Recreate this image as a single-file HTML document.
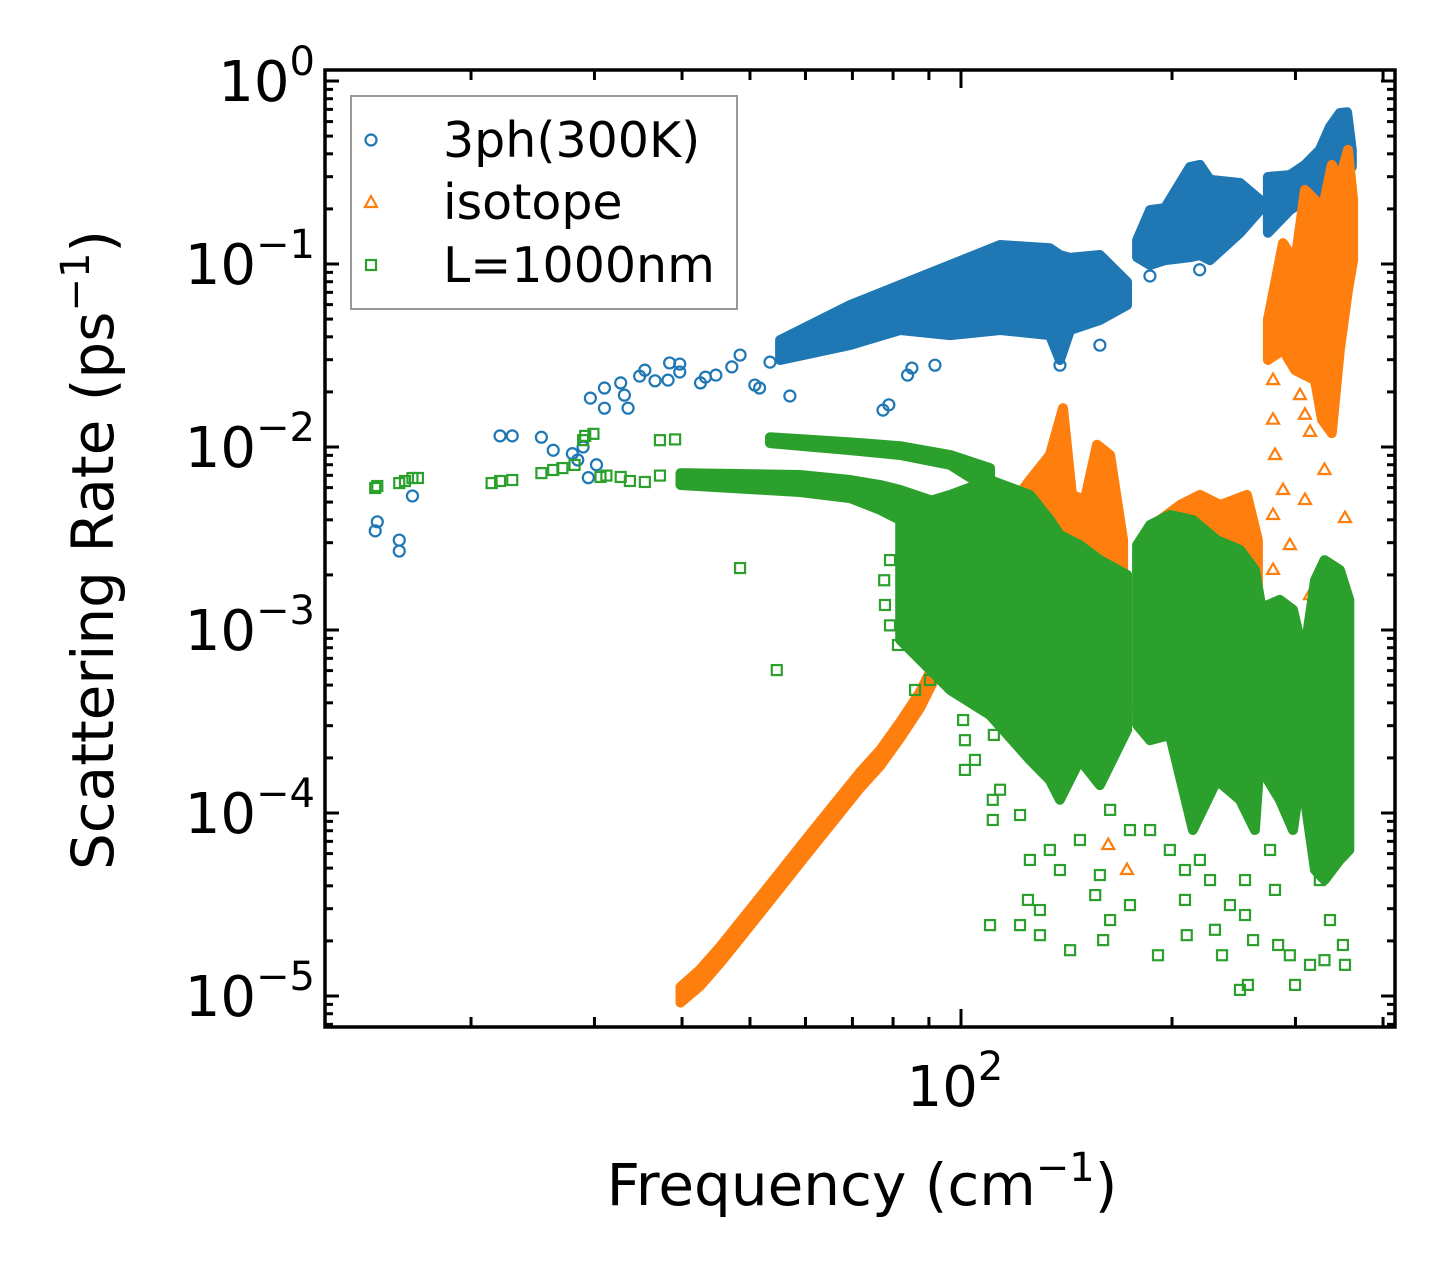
<!DOCTYPE html>
<html><head><meta charset="utf-8"><style>
html,body{margin:0;padding:0;background:#fff;}
svg text{font-family:"DejaVu Sans","Liberation Sans",sans-serif;fill:#000;}
</style></head>
<body>
<svg id="chart" width="1455" height="1277" viewBox="0 0 1455 1277" xmlns="http://www.w3.org/2000/svg">
<rect width="1455" height="1277" fill="#fff"/>
<g id="marks"></g>
<g id="axes"></g>
<g id="legend">
 <rect x="351" y="96" width="386" height="213" fill="#fff" fill-opacity="0.8" stroke="#999" stroke-width="2"/>
 <circle cx="371" cy="140" r="5.5" fill="none" stroke="#1f77b4" stroke-width="2.2"/>
 <text x="443" y="157" font-size="49">3ph(300K)</text>
 <path d="M371,196 L377,207 L365,207 Z" fill="none" stroke="#ff7f0e" stroke-width="2.2"/>
 <text x="443" y="219" font-size="49">isotope</text>
 <rect x="366" y="260" width="10" height="10" fill="none" stroke="#2ca02c" stroke-width="2.2"/>
 <text x="443" y="282" font-size="49">L=1000nm</text>
</g>
<text x="862" y="1205" font-size="58" text-anchor="middle">Frequency (cm<tspan font-size="40" dy="-24">−1</tspan><tspan dy="24">)</tspan></text>
<text transform="translate(113,550) rotate(-90)" font-size="58" text-anchor="middle">Scattering Rate (ps<tspan font-size="40" dy="-24">−1</tspan><tspan dy="24">)</tspan></text>
</svg>
<script>
// ---- axis config ----
const X0=961, XDEC=701;
const Y0=81, YDEC=183;
const PL=325, PR=1395, PT=70, PB=1027;
function xs(f){return X0+XDEC*Math.log10(f/100);}
function ys(v){return Y0-YDEC*Math.log10(v);}

// ---- data: 3ph(300K) ----
const phFreq=[14.6,14.7,15.8,15.8,16.5,22.0,22.9,25.2,26.2,27.9,28.4,28.9,29.4,29.6,30.2,31.0,31.0,32.7,33.1,33.5,34.8,35.4,36.6,38.2,38.4,39.7,39.7,42.5,43.2,44.7,47.1,48.4,50.8,51.6,53.4,57.0,58.9,60.9,65.0,71.8,77.4,78.9,83.9,85.1,91.8,138.4,157.8,186,219];
const phRate=[3.48e-3,3.9e-3,2.7e-3,3.1e-3,5.4e-3,1.15e-2,1.15e-2,1.13e-2,9.6e-3,9.2e-3,8.5e-3,1.0e-2,6.8e-3,1.85e-2,8.0e-3,2.1e-2,1.63e-2,2.24e-2,1.92e-2,1.63e-2,2.44e-2,2.63e-2,2.3e-2,2.32e-2,2.88e-2,2.84e-2,2.57e-2,2.24e-2,2.41e-2,2.47e-2,2.74e-2,3.18e-2,2.18e-2,2.1e-2,2.91e-2,1.9e-2,3.39e-2,4.36e-2,4.58e-2,4.14e-2,1.59e-2,1.7e-2,2.47e-2,2.7e-2,2.8e-2,2.8e-2,3.6e-2,8.6e-2,9.3e-2];
const phBand1Freq=[55.2,69.5,81.9,96.5,113.7,133.9,138.4,143.1,157.8,172.5];
const phBand1Hi=[0.0384,0.0597,0.0768,0.0988,0.127,0.122,0.112,0.108,0.112,0.0798];
const phBand1Lo=[0.0299,0.0361,0.0436,0.0409,0.0436,0.0409,0.0299,0.0436,0.0494,0.0597];
const phBand2Freq=[178.3,186.1,195.4,212.2,219.2,226.6,250,267];
const phBand2Hi=[0.135,0.197,0.202,0.339,0.348,0.288,0.277,0.224];
const phBand2Lo=[0.109,0.0988,0.105,0.109,0.112,0.105,0.148,0.197];
const phBand3Freq=[274,294.5,309.5,325,336,347,355.5,361];
const phBand3Hi=[0.299,0.306,0.348,0.420,0.561,0.668,0.675,0.420];
const phBand3Lo=[0.148,0.197,0.224,0.197,0.264,0.327,0.339,0.339];

// ---- data: isotope ----
const isoCurveFreq=[39.8,42.4,45.3,48.4,51.7,55.2,58.9,62.9,67.2,71.8,76.7,81.9,87.4,93.3,99.7,110];
const isoCurveHi=[1.12e-5,1.39e-5,1.85e-5,2.54e-5,3.48e-5,4.76e-5,6.52e-5,8.93e-5,1.22e-4,1.67e-4,2.21e-4,3.14e-4,4.58e-4,7.59e-4,1.34e-3,2.67e-3];
const isoCurveLo=[9.2e-6,1.13e-5,1.51e-5,2.07e-5,2.84e-5,3.89e-5,5.33e-5,7.3e-5,1.0e-4,1.37e-4,1.81e-4,2.57e-4,3.75e-4,6.2e-4,1.09e-3,2.18e-3];
const isoAFreq=[108.2,113.7,125.4,133.9,139.8,144.0,150.2,156.3,163.2,170.3];
const isoAHi=[2.41e-3,3.99e-3,6.6e-3,9.04e-3,1.63e-2,5.47e-3,5.13e-3,1.03e-2,9.04e-3,3.1e-3];
const isoALo=[1.13e-3,3.22e-4,3.22e-4,3.22e-4,3.22e-4,3.22e-4,3.22e-4,3.22e-4,3.22e-4,3.22e-4];
const isoBFreq=[180.0,192.2,205.4,219.2,234.3,255.8,265.2];
const isoBHi=[2.41e-3,3.99e-3,4.82e-3,5.47e-3,4.82e-3,5.47e-3,3.1e-3];
const isoBLo=[4.14e-4,4.14e-4,4.14e-4,4.14e-4,4.14e-4,4.14e-4,4.14e-4];
const isoCFreq=[274,288,299.6,309.5,319.9,327.3,338,347,356.5,362.5];
const isoCHi=[0.0494,0.130,0.1026,0.254,0.224,0.192,0.348,0.288,0.420,0.224];
const isoCLo=[0.0299,0.0339,0.0263,0.0247,0.0232,0.0141,0.0119,0.0339,0.0721,0.105];
const isoFreq=[278.7,278.7,280.5,288,304.5,309.5,314.7,309.5,278.7,294.5,278.7,353,314.7,172.5,162.2,172.5,330,336];
const isoRate=[0.0232,0.0141,9.04e-3,5.82e-3,0.0192,0.0150,0.0121,5.13e-3,4.25e-3,2.91e-3,2.13e-3,4.09e-3,1.55e-3,4.88e-5,6.68e-5,3.89e-4,7.49e-3,0.0159];

// ---- data: L=1000nm ----
const bdFreq=[14.6,14.7,15.8,16.1,16.5,16.8,21.4,22.0,22.9,25.2,26.2,27.0,28.1,28.9,29.1,29.9,30.6,31.2,32.7,33.7,35.4,37.2,37.2,39.1,48.4,54.6,86.0,90.3,77.9,79.2,81.3,79.2,77.7,87.4,91.8,101.3,101.3,104.7,100.7,111,111,111.4,113.7,121.4,125.4,124.6,129.6,129.6,138.4,143.1,147.8,155.4,157.8,159.5,163.2,163.2,174.2,186.1,191,208.7,208.7,209.9,219.2,226.6,230.3,235.7,241.9,254.2,254.2,256.6,261,280.5,283.4,294.5,299.6,314.7,330,336,353,350.6,110,121.4,174.2,250,133.9,198.6,325,276];
const bdRate=[5.97e-3,6.12e-3,6.35e-3,6.52e-3,6.77e-3,6.77e-3,6.35e-3,6.52e-3,6.6e-3,7.2e-3,7.49e-3,7.67e-3,7.98e-3,1.09e-2,1.15e-2,1.18e-2,6.86e-3,6.98e-3,6.86e-3,6.52e-3,6.44e-3,6.98e-3,1.09e-2,1.1e-2,2.18e-3,6.04e-4,4.7e-4,5.33e-4,1.37e-3,1.06e-3,8.28e-4,2.41e-3,1.87e-3,1.46e-3,1.87e-3,2.5e-4,1.72e-4,1.95e-4,3.22e-4,1.18e-4,9.16e-5,2.67e-4,1.34e-4,9.75e-5,5.54e-5,3.35e-5,2.95e-5,2.15e-5,4.88e-5,1.78e-5,7.12e-5,3.56e-5,4.58e-5,2.02e-5,2.6e-5,1.04e-4,3.14e-5,8.07e-5,1.67e-5,4.88e-5,3.35e-5,2.15e-5,5.54e-5,4.3e-5,2.3e-5,1.67e-5,3.14e-5,4.3e-5,2.77e-5,1.15e-5,2.02e-5,3.8e-5,1.9e-5,1.67e-5,1.15e-5,1.48e-5,1.57e-5,2.6e-5,1.48e-5,1.9e-5,2.44e-5,2.44e-5,8.07e-5,1.08e-5,6.28e-5,6.28e-5,4.3e-5,6.28e-5];
const bd0Freq=[53.4,69.5,81.9,96.5,110];
const bd0Hi=[1.13e-2,1.06e-2,1.01e-2,9.04e-3,7.67e-3];
const bd0Lo=[1.05e-2,9.6e-3,9.04e-3,7.98e-3,5.82e-3];
const bd1Freq=[39.8,58.9,69.5,76.7,81.9,90.3,96.5];
const bd1Hi=[7.2e-3,7.03e-3,6.6e-3,6.2e-3,5.82e-3,5.13e-3,4.82e-3];
const bd1Lo=[6.2e-3,5.68e-3,5.26e-3,4.53e-3,3.99e-3,2.91e-3,2.41e-3];
const bdAFreq=[81.9,96.5,110.0,125.4,133.9,138.4,147.8,157.8,172.5];
const bdAHi=[4.53e-3,5.47e-3,6.6e-3,5.47e-3,3.99e-3,3.31e-3,2.91e-3,2.41e-3,2.0e-3];
const bdALo=[8.82e-4,4.7e-4,3.43e-4,1.95e-4,1.51e-4,1.18e-4,1.95e-4,1.42e-4,2.84e-4];
const bdBFreq=[178.3,186.1,198.6,214.2,231.8,250,262.6,268.7];
const bdBHi=[2.91e-3,3.75e-3,4.25e-3,3.99e-3,3.1e-3,2.74e-3,2.13e-3,1.29e-3];
const bdBLo=[3.03e-4,2.5e-4,2.67e-4,8.07e-5,1.51e-4,1.18e-4,8.07e-5,2.84e-4];
const bdC1Freq=[274,285,297.6,304.5];
const bdC1Hi=[1.37e-3,1.46e-3,1.29e-3,8.82e-4];
const bdC1Lo=[1.51e-4,1.18e-4,8.07e-5,1.51e-4];
const bdC2Freq=[309.5,319.9,330,347,358];
const bdC2Hi=[7.78e-4,1.87e-3,2.41e-3,2.13e-3,1.46e-3];
const bdC2Lo=[1.18e-4,4.88e-5,4.3e-5,5.54e-5,6.28e-5];

const NS='http://www.w3.org/2000/svg';
const marks=document.getElementById('marks');
const axes=document.getElementById('axes');
const C1='#1f77b4', C2='#ff7f0e', C3='#2ca02c';

function band(freq,hi,lo,color,name){
  let pts=[];
  for(let i=0;i<freq.length;i++) pts.push(xs(freq[i]).toFixed(1)+','+ys(hi[i]).toFixed(1));
  for(let i=freq.length-1;i>=0;i--) pts.push(xs(freq[i]).toFixed(1)+','+ys(lo[i]).toFixed(1));
  const p=document.createElementNS(NS,'polygon');
  p.setAttribute('points',pts.join(' '));
  p.setAttribute('fill',color);
  p.setAttribute('stroke',color);
  p.setAttribute('stroke-width','10');
  p.setAttribute('stroke-linejoin','round');
  
  
  marks.appendChild(p);
}
function marker(kind,f,v,color,name){
  const x=xs(f), y=ys(v); let el;
  if(kind==='o'){el=document.createElementNS(NS,'circle');el.setAttribute('cx',x);el.setAttribute('cy',y);el.setAttribute('r',5.5);}
  else if(kind==='^'){el=document.createElementNS(NS,'path');el.setAttribute('d',`M${x},${y-6.5} L${x+6},${y+4} L${x-6},${y+4} Z`);}
  else {el=document.createElementNS(NS,'rect');el.setAttribute('x',x-5);el.setAttribute('y',y-5);el.setAttribute('width',10);el.setAttribute('height',10);}
  el.setAttribute('fill','none');el.setAttribute('stroke',color);el.setAttribute('stroke-width','2.2');
  
  
  marks.appendChild(el);
}
band(phBand1Freq,phBand1Hi,phBand1Lo,C1,'3ph-band-1');
band(phBand2Freq,phBand2Hi,phBand2Lo,C1,'3ph-band-2');
band(phBand3Freq,phBand3Hi,phBand3Lo,C1,'3ph-band-3');
phFreq.forEach((f,i)=>marker('o',f,phRate[i],C1,'3ph-point'));
band(isoCurveFreq,isoCurveHi,isoCurveLo,C2,'isotope-curve');
band(isoAFreq,isoAHi,isoALo,C2,'isotope-band-a');
band(isoBFreq,isoBHi,isoBLo,C2,'isotope-band-b');
band(isoCFreq,isoCHi,isoCLo,C2,'isotope-band-c');
isoFreq.forEach((f,i)=>marker('^',f,isoRate[i],C2,'isotope-point'));
band(bd0Freq,bd0Hi,bd0Lo,C3,'boundary-band-upper');
band(bd1Freq,bd1Hi,bd1Lo,C3,'boundary-band-line');
band(bdAFreq,bdAHi,bdALo,C3,'boundary-band-a');
band(bdBFreq,bdBHi,bdBLo,C3,'boundary-band-b');
band(bdC1Freq,bdC1Hi,bdC1Lo,C3,'boundary-band-c1');
band(bdC2Freq,bdC2Hi,bdC2Lo,C3,'boundary-band-c2');
bdFreq.forEach((f,i)=>marker('s',f,bdRate[i],C3,'boundary-point'));

// ---- axes ----
const yTickExp=[0,-1,-2,-3,-4,-5];
const xTickMinor=[20,30,40,50,60,70,80,90,200,300,400];
function line(x1,y1,x2,y2,w,name){
  const l=document.createElementNS(NS,'line');
  l.setAttribute('x1',x1);l.setAttribute('y1',y1);l.setAttribute('x2',x2);l.setAttribute('y2',y2);
  l.setAttribute('stroke','#000');l.setAttribute('stroke-width',w);
  
  
  axes.appendChild(l);
}
const frame=document.createElementNS(NS,'rect');
frame.setAttribute('x',PL);frame.setAttribute('y',PT);frame.setAttribute('width',PR-PL);frame.setAttribute('height',PB-PT);
frame.setAttribute('fill','none');frame.setAttribute('stroke','#000');frame.setAttribute('stroke-width','3.5');


axes.appendChild(frame);
for(let e=-6;e<=0;e++){
  for(let m=1;m<10;m++){
    const v=m*Math.pow(10,e); const y=ys(v);
    if(y<PT||y>PB) continue;
    const L=m===1?14:8;
    line(PL,y,PL+L,y,3,'y-tick');
    line(PR,y,PR-L,y,3,'y-tick-right');
  }
}
yTickExp.forEach(e=>{
  const t=document.createElementNS(NS,'text');
  t.setAttribute('x',PL-10);t.setAttribute('y',ys(Math.pow(10,e))+20);
  t.setAttribute('font-size','56');t.setAttribute('text-anchor','end');
  
  
  t.innerHTML='10<tspan font-size="40" dy="-26">'+(e===0?'0':'−'+(-e))+'</tspan>';
  axes.appendChild(t);
});
xTickMinor.forEach(f=>{const x=xs(f);line(x,PB,x,PB-10,3,'x-tick');line(x,PT,x,PT+10,3,'x-tick-top');});
line(xs(100),PB,xs(100),PB-18,3,'x-tick-major');line(xs(100),PT,xs(100),PT+18,3,'x-tick-major-top');
const xt=document.createElementNS(NS,'text');
xt.setAttribute('x',xs(100)-6);xt.setAttribute('y',1106);xt.setAttribute('font-size','56');xt.setAttribute('text-anchor','middle');


xt.innerHTML='10<tspan font-size="40" dy="-26">2</tspan>';
axes.appendChild(xt);
</script>
</body></html>
